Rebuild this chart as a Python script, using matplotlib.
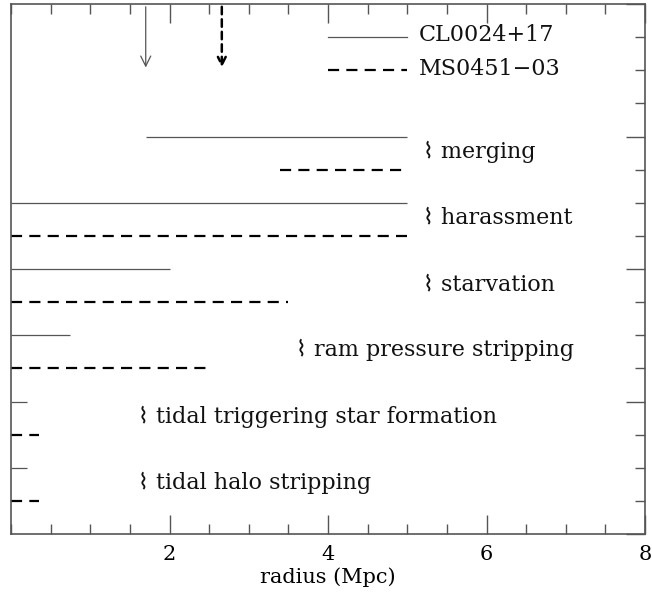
import matplotlib
matplotlib.use('Agg')
import matplotlib.pyplot as plt
from matplotlib.ticker import MultipleLocator, NullFormatter

# processes: (label, CL0024 range, MS0451 range)
processes = ['merging', 'harassment', 'starvation', 'ram pressure stripping',
             'tidal triggering star formation', 'tidal halo stripping']
cl_start = [1.7, 0, 0, 0, 0, 0]
cl_end = [5.0, 5.0, 2.0, 0.75, 0.2, 0.2]
ms_start = [3.4, 0, 0, 0, 0, 0]
ms_end = [5.0, 5.0, 3.5, 2.5, 0.35, 0.35]
cl_y = [12, 10, 8, 6, 4, 2]
ms_y = [11, 9, 7, 5, 3, 1]
label_x = [5.2, 5.2, 5.2, 3.6, 1.6, 1.6]
arrow_x = [1.7, 2.66]  # CL0024, MS0451
legend_names = ['CL0024+17', 'MS0451\u221203']

grey = '#555555'
dash = (5, 3.25)
fs = 16

plt.rcParams['font.family'] = ['DejaVu Serif', 'DejaVu Sans']
fig = plt.figure(figsize=(6.52, 5.92), dpi=100)
ax = fig.add_axes([11/652, 58/592, 634/652, 530/592])

for i in range(len(processes)):
    ax.plot([cl_start[i], cl_end[i]], [cl_y[i], cl_y[i]], color=grey, lw=0.9,
            solid_capstyle='butt')
    ax.plot([ms_start[i], ms_end[i]], [ms_y[i], ms_y[i]], color='black', lw=1.6,
            dashes=dash, dash_capstyle='butt')
    ax.text(label_x[i], (cl_y[i] + ms_y[i]) / 2 + 0.05, '\u2307 ' + processes[i],
            fontsize=fs, va='center', ha='left', color='#111111')

# legend
ax.plot([4.0, 5.0], [15, 15], color=grey, lw=0.9)
ax.plot([4.0, 5.0], [14, 14], color='black', lw=1.6, dashes=dash)
ax.text(5.15, 15.05, legend_names[0], fontsize=fs, va='center', color='#111111')
ax.text(5.15, 14.05, legend_names[1], fontsize=fs, va='center', color='#111111')

# arrows
ax.annotate('', xy=(arrow_x[0], 14), xytext=(arrow_x[0], 16),
            arrowprops=dict(arrowstyle='->', color=grey, lw=0.9,
                            mutation_scale=18))
ax.annotate('', xy=(arrow_x[1], 14), xytext=(arrow_x[1], 16),
            arrowprops=dict(arrowstyle='->', color='black', lw=1.8,
                            linestyle=(0, (3, 2)), mutation_scale=14))

ax.set_xlim(0, 8)
ax.set_ylim(0, 16)
ax.xaxis.set_major_locator(MultipleLocator(2))
ax.xaxis.set_minor_locator(MultipleLocator(0.5))
ax.set_xticks([2, 4, 6, 8])
ax.yaxis.set_major_locator(MultipleLocator(4))
ax.yaxis.set_minor_locator(MultipleLocator(1))
ax.yaxis.set_major_formatter(NullFormatter())
ax.tick_params(which='both', direction='in', top=True, right=True, left=False,
               color=grey, labelsize=15, pad=8)
ax.tick_params(which='major', length=14, width=1)
ax.tick_params(which='minor', length=7, width=1)
for s in ax.spines.values():
    s.set_color(grey)
    s.set_linewidth(1.2)
ax.set_xlabel('radius (Mpc)', fontsize=15, labelpad=2)

fig.savefig('out.png', dpi=100)
